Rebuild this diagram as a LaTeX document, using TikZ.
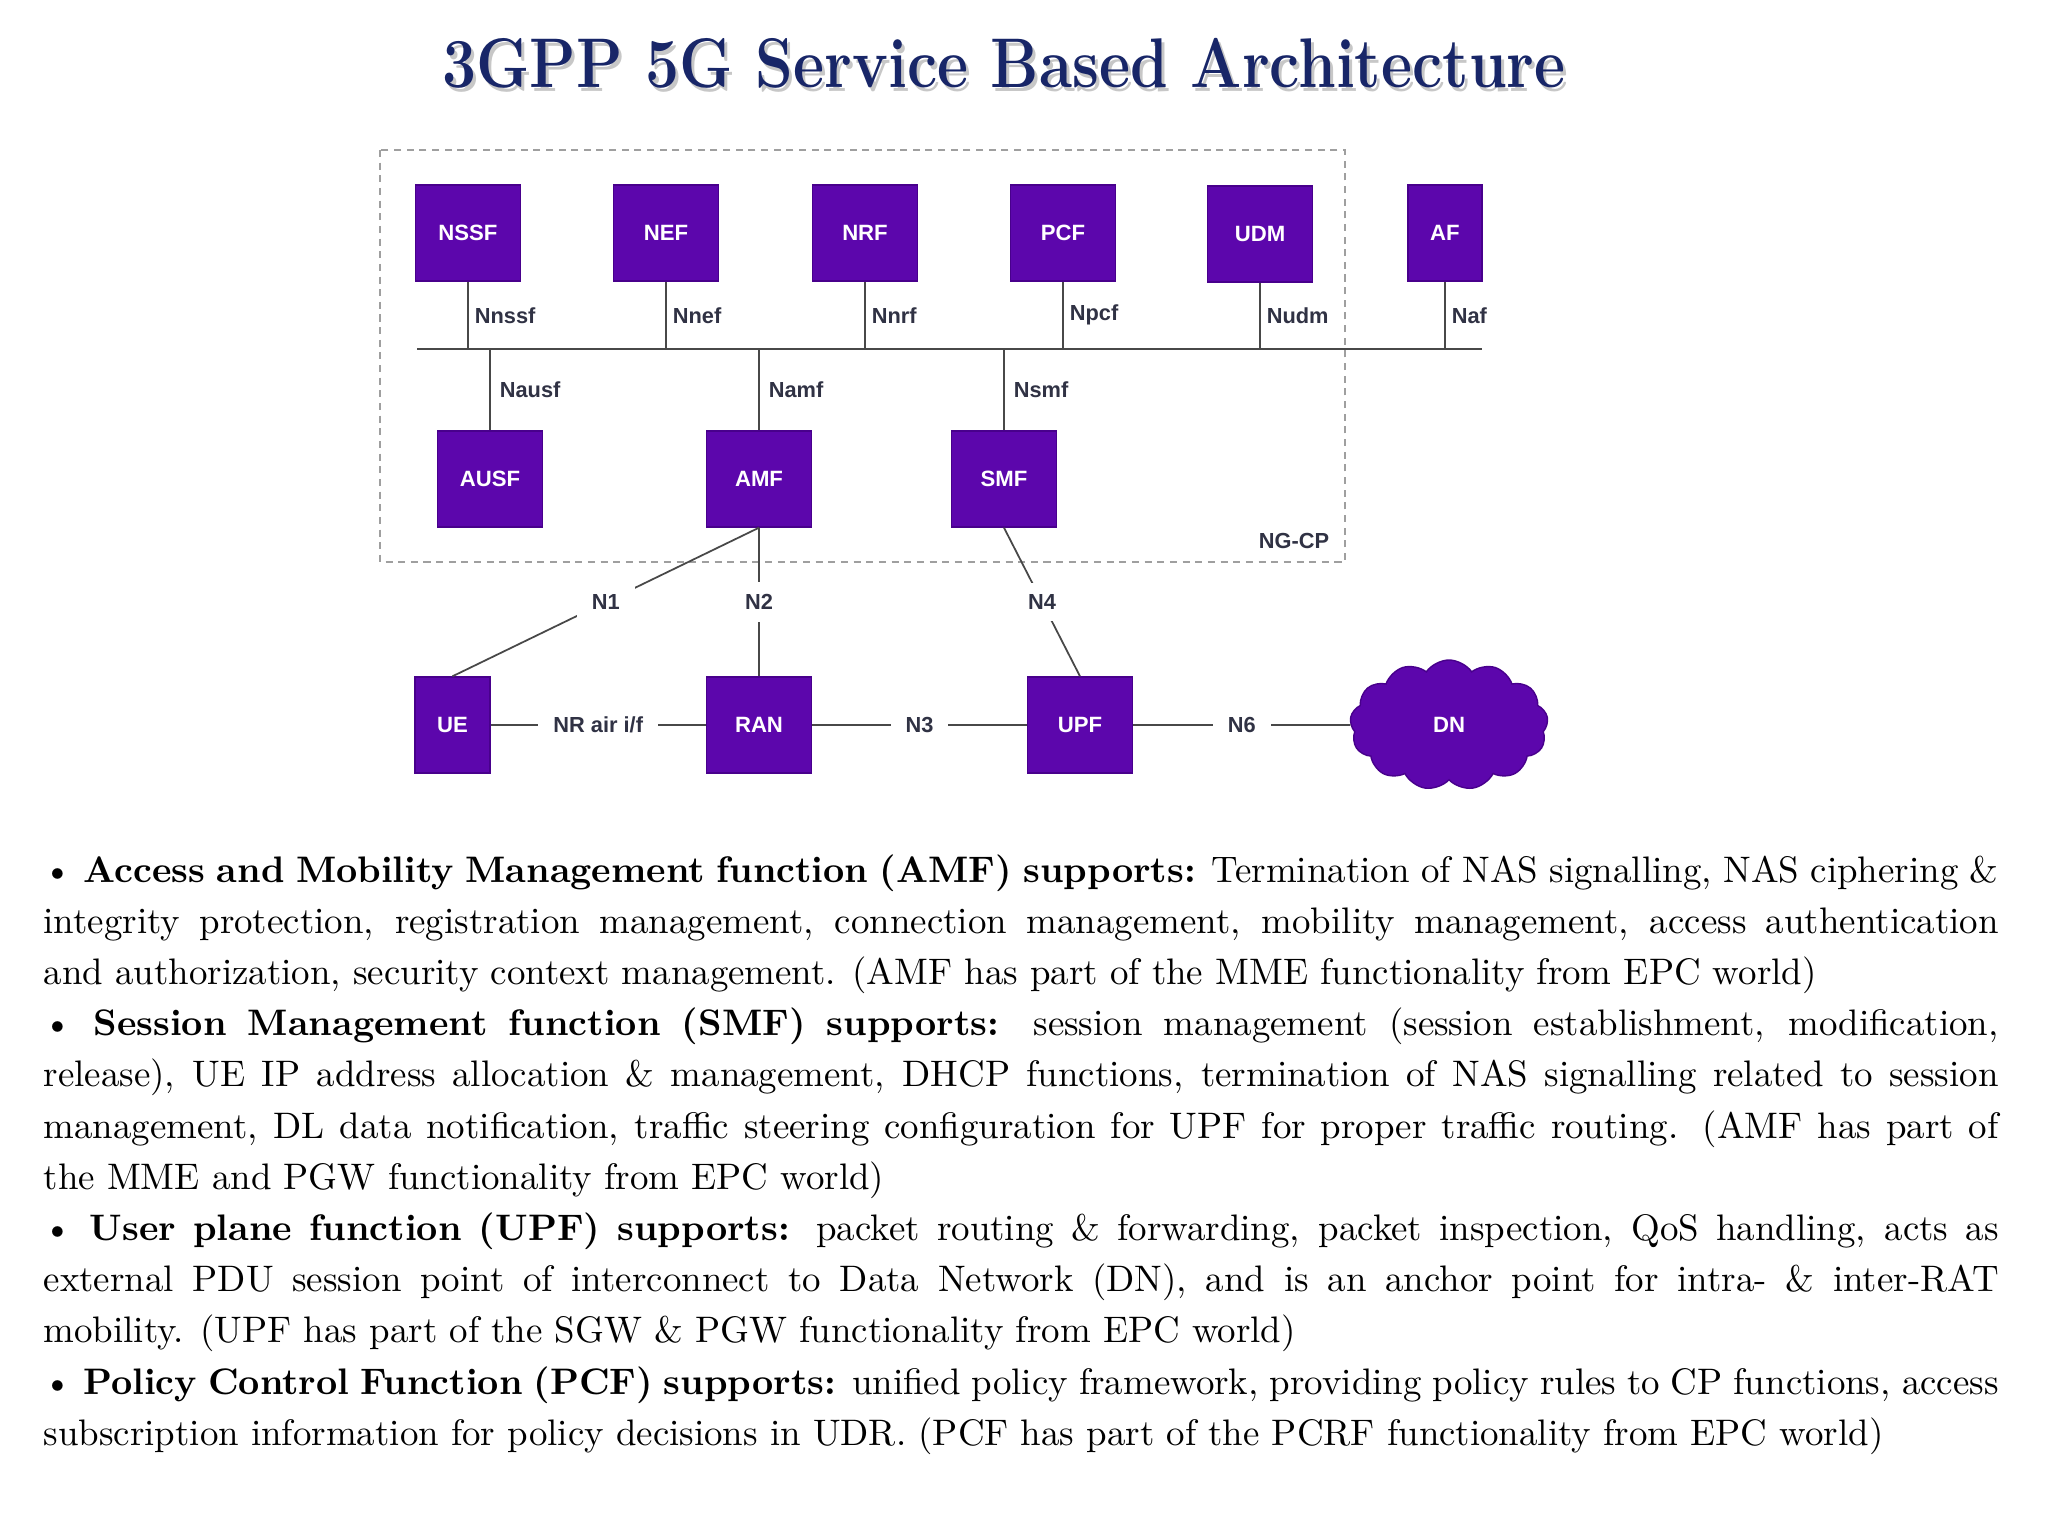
\documentclass[tikz,border=0pt]{standalone}
\usepackage{fontspec}
\usepackage{tikz}
\usetikzlibrary{shapes.symbols}
\newfontfamily\arialfont{Liberation Sans}
\definecolor{nfpurple}{RGB}{92,6,172}
\definecolor{nfedge}{RGB}{72,0,140}
\definecolor{titlenavy}{RGB}{24,38,104}
\definecolor{ifgrey}{RGB}{48,50,68}
\definecolor{linkgrey}{RGB}{72,72,72}
\hyphenpenalty=10000
\exhyphenpenalty=10000

\begin{document}
\begin{tikzpicture}[
		nf/.style={draw=nfedge, fill=nfpurple, text=white, minimum width=1.05cm, minimum height=0.96cm, inner sep=0pt, font=\arialfont\bfseries\fontsize{6.3}{7}\selectfont},
		iflbl/.style={text=ifgrey, inner sep=0.03cm, font=\arialfont\bfseries\fontsize{6.2}{7}\selectfont},
		gaplbl/.style={iflbl, fill=white, inner xsep=0.15cm, inner ysep=0.12cm},
		link/.style={draw=linkgrey, line width=0.5pt},
		ngcpframe/.style={draw=gray!75, line width=0.5pt, dash pattern=on 2pt off 1.6pt}
	]
		\useasboundingbox[fill=white] (0,0) rectangle (20.48,-15.36);

		% title
		\node[anchor=base, text=black!22, font=\bfseries\fontsize{20}{24}\selectfont] (titleshadow) at (10.07,-0.915) {\scalebox{0.86}[1]{3GPP 5G Service Based Architecture}};
		\node[anchor=base, text=titlenavy, font=\bfseries\fontsize{20}{24}\selectfont] (title) at (10.04,-0.88) {\scalebox{0.86}[1]{3GPP 5G Service Based Architecture}};

		% control plane frame
		\draw[ngcpframe] (3.80,-1.50) rectangle (13.45,-5.62);
		\node[iflbl] (ngcp) at (12.94,-5.41) {NG-CP};

		% service functions
		\node[nf] (nssf) at (4.68,-2.33) {NSSF};
		\node[nf] (nef) at (6.66,-2.33) {NEF};
		\node[nf] (nrf) at (8.65,-2.33) {NRF};
		\node[nf] (pcf) at (10.63,-2.33) {PCF};
		\node[nf] (udm) at (12.60,-2.34) {UDM};
		\node[nf, minimum width=0.74cm] (af) at (14.45,-2.33) {AF};
		\node[nf] (ausf) at (4.90,-4.79) {AUSF};
		\node[nf] (amf) at (7.59,-4.79) {AMF};
		\node[nf] (smf) at (10.04,-4.79) {SMF};

		% service bus
		\coordinate (busW) at (4.17,-3.49);
		\coordinate (busE) at (14.82,-3.49);
		\draw[link] (busW) -- (busE);
		\foreach \n/\t in {nssf/Nnssf, nef/Nnef, nrf/Nnrf, pcf/Npcf, udm/Nudm, af/Naf}
			\draw[link] (\n) -- (\n |- busW) node[midway, right, iflbl, xshift=0.03cm] (\n-lbl) {\t};
		\foreach \n/\t in {ausf/Nausf, amf/Namf, smf/Nsmf}
			\draw[link] (\n |- busW) -- (\n) node[midway, right, iflbl, xshift=0.06cm] (\n-lbl) {\t};

		% user plane
		\node[nf, minimum width=0.75cm] (ue) at (4.525,-7.25) {UE};
		\node[nf] (ran) at (7.59,-7.25) {RAN};
		\node[nf] (upf) at (10.80,-7.25) {UPF};
		\node[cloud, cloud puffs=13, cloud puff arc=110, aspect=1.6, draw=nfedge, fill=nfpurple, text=white, minimum width=1.98cm, minimum height=1.3cm, inner sep=0pt, font=\arialfont\bfseries\fontsize{6.3}{7}\selectfont] (dn) at (14.49,-7.25) {DN};

		\draw[link] (amf.south) -- node[gaplbl] (n1) {N1} (ue.north);
		\draw[link] (amf.south) -- node[gaplbl] (n2) {N2} (ran.north);
		\draw[link] (smf.south) -- node[gaplbl] (n4) {N4} (upf.north);
		\draw[link] (ue) -- node[gaplbl] (nrair) {NR air i/f} (ran);
		\draw[link] (ran) -- node[gaplbl] (n3) {N3} (upf);
		\draw[link] (upf) -- node[gaplbl] (n6) {N6} (dn);

		% description
		\node[anchor=base west, inner sep=0pt, text width=19.55cm, align=justify, font=\fontsize{10.5}{14.57}\selectfont] (desc) at (0.43,-8.82) {\spaceskip=0.33em plus 0.3em minus 0.16em\tolerance=10000
			\textbullet\ \textbf{Access and Mobility Management function (AMF) supports:} Termination of NAS signalling, NAS ciphering \&\linebreak
			integrity protection, registration management, connection management, mobility management, access authentication\linebreak
			and authorization, security context management. (AMF has part of the MME functionality from EPC world)\par
			\textbullet\ \textbf{Session Management function (SMF) supports:} session management (session establishment, modification,\linebreak
			release), UE IP address allocation \& management, DHCP functions, termination of NAS signalling related to session\linebreak
			management, DL data notification, traffic steering configuration for UPF for proper traffic routing. (AMF has part of\linebreak
			the MME and PGW functionality from EPC world)\par
			\textbullet\ \textbf{User plane function (UPF) supports:} packet routing \& forwarding, packet inspection, QoS handling, acts as\linebreak
			external PDU session point of interconnect to Data Network (DN), and is an anchor point for intra- \& inter-RAT\linebreak
			mobility. (UPF has part of the SGW \& PGW functionality from EPC world)\par
			\textbullet\ \textbf{Policy Control Function (PCF) supports:} unified policy framework, providing policy rules to CP functions, access\linebreak
			subscription information for policy decisions in UDR. (PCF has part of the PCRF functionality from EPC world)};
	\end{tikzpicture}
\end{document}
